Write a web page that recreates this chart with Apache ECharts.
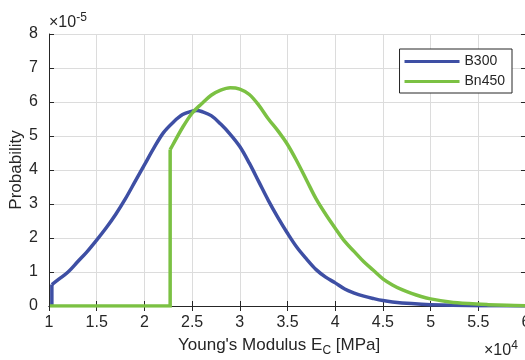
<!DOCTYPE html>
<html>
<head>
<meta charset="utf-8">
<script src="https://cdn.jsdelivr.net/npm/echarts@6/dist/echarts.min.js"></script>
<style>
  html, body { margin: 0; padding: 0; background: #fff; }
  #chart { width: 525px; height: 360px; }
</style>
</head>
<body>
<div id="chart"></div>
<script>
// x in units of 1e4 MPa, y in units of 1e-5
const blueX = [1.03, 1.03, 1.1, 1.2, 1.3, 1.4, 1.5, 1.6, 1.7, 1.8, 1.9, 2.0, 2.1, 2.2, 2.3, 2.4, 2.5, 2.55, 2.6, 2.7, 2.8, 2.9, 3.0, 3.1, 3.2, 3.3, 3.4, 3.5, 3.6, 3.7, 3.8, 3.9, 4.0, 4.1, 4.2, 4.3, 4.4, 4.5, 4.6, 4.8, 5.0, 5.5, 6.0];
const blueY = [0, 0.63, 0.78, 1.0, 1.3, 1.6, 1.94, 2.3, 2.7, 3.15, 3.65, 4.15, 4.65, 5.1, 5.4, 5.63, 5.73, 5.75, 5.72, 5.6, 5.35, 5.05, 4.69, 4.2, 3.65, 3.1, 2.6, 2.14, 1.72, 1.38, 1.07, 0.85, 0.68, 0.5, 0.38, 0.29, 0.22, 0.16, 0.12, 0.07, 0.04, 0.01, 0.0];
const greenX = [1.01, 2.27, 2.27, 2.3, 2.4, 2.5, 2.6, 2.7, 2.8, 2.9, 3.0, 3.1, 3.2, 3.3, 3.4, 3.5, 3.6, 3.7, 3.8, 3.9, 4.0, 4.1, 4.2, 4.3, 4.4, 4.5, 4.6, 4.7, 4.8, 4.9, 5.0, 5.2, 5.4, 5.6, 5.8, 6.0];
const greenY = [0, 0, 4.6, 4.75, 5.25, 5.67, 5.95, 6.2, 6.35, 6.42, 6.38, 6.22, 5.9, 5.5, 5.15, 4.75, 4.25, 3.7, 3.15, 2.7, 2.29, 1.9, 1.6, 1.3, 1.05, 0.8, 0.62, 0.48, 0.37, 0.28, 0.21, 0.12, 0.07, 0.04, 0.02, 0.01];
const seriesNames = ['B300', 'Bn450'];
const colors = ['#3E4FA4', '#7BC143'];
// index where the smooth part of each curve begins (after the vertical jump)
const blueJump = 1;
const greenJump = 2;

const font = 'Liberation Sans, Arial, sans-serif';
const ink = '#262626';
const zip = (xs, ys) => xs.map((x, i) => [x, ys[i]]);

const chart = echarts.init(document.getElementById('chart'));

const baseX = {
  type: 'value', min: 1, max: 6, interval: 0.5,
  axisLine: { lineStyle: { color: ink, width: 1 } },
  axisTick: { inside: true, length: 5, lineStyle: { color: ink } },
  splitLine: { show: false }
};
const baseY = {
  type: 'value', min: 0, max: 8, interval: 1,
  axisLine: { lineStyle: { color: ink, width: 1 } },
  axisTick: { inside: true, length: 5, lineStyle: { color: ink } },
  splitLine: { show: false }
};

function part(i, data, smooth) {
  return {
    name: seriesNames[i], type: 'line', data: data,
    showSymbol: false, color: colors[i], smooth: smooth,
    lineStyle: { width: 3.5, color: colors[i], join: 'miter' }
  };
}

const blue = zip(blueX, blueY);
const green = zip(greenX, greenY);

chart.setOption({
  animation: false,
  grid: { left: 49, width: 477, top: 34, bottom: 54, outerBoundsMode: 'none', containLabel: false },
  xAxis: [
    Object.assign({}, baseX, {
      position: 'bottom',
      splitLine: { show: true, lineStyle: { color: '#dcdcdc' } },
      axisLabel: { color: ink, fontSize: 16, fontFamily: font, margin: 9 }
    }),
    Object.assign({}, baseX, { position: 'top', axisLabel: { show: false } })
  ],
  yAxis: [
    Object.assign({}, baseY, {
      position: 'left',
      splitLine: { show: true, lineStyle: { color: '#dcdcdc' } },
      axisLabel: { color: ink, fontSize: 16, fontFamily: font, margin: 11 }
    }),
    Object.assign({}, baseY, { position: 'right', axisLabel: { show: false } })
  ],
  legend: {
    data: seriesNames,
    orient: 'vertical',
    right: 13,
    top: 49,
    backgroundColor: '#fff',
    borderColor: ink,
    borderWidth: 1,
    borderRadius: 0,
    padding: [5, 7, 4, 5],
    itemGap: 5,
    itemWidth: 55,
    itemHeight: 3,
    icon: 'rect',
    textStyle: { color: ink, fontSize: 14, fontFamily: font, lineHeight: 15 }
  },
  series: [
    part(0, blue.slice(0, blueJump + 1), false),
    part(0, blue.slice(blueJump), 0.35),
    part(1, green.slice(0, greenJump + 1), false),
    part(1, green.slice(greenJump), 0.35)
  ],
  graphic: [
    {
      type: 'text', x: 16, y: 170, rotation: Math.PI / 2,
      style: {
        text: 'Probability', fill: ink, fontSize: 17, fontFamily: font,
        align: 'center', verticalAlign: 'middle'
      }
    },
    {
      type: 'text', left: 49, top: 12,
      style: {
        text: '×10{s|-5}',
        fill: ink, fontSize: 16, fontFamily: font,
        rich: { s: { fontSize: 12, padding: [0, 0, 9, 0], fill: ink, fontFamily: font } }
      }
    },
    {
      type: 'text', left: 484, top: 340,
      style: {
        text: '×10{s|4}',
        fill: ink, fontSize: 16, fontFamily: font,
        rich: { s: { fontSize: 12, padding: [0, 0, 9, 0], fill: ink, fontFamily: font } }
      }
    },
    {
      type: 'text', left: 178, top: 337,
      style: {
        text: "Young's Modulus E{sub|C} [MPa]",
        fill: ink, fontSize: 17, fontFamily: font,
        rich: { sub: { fontSize: 12, padding: [10, 0, 0, 0], fill: ink, fontFamily: font } }
      }
    }
  ]
});
</script>
</body>
</html>
